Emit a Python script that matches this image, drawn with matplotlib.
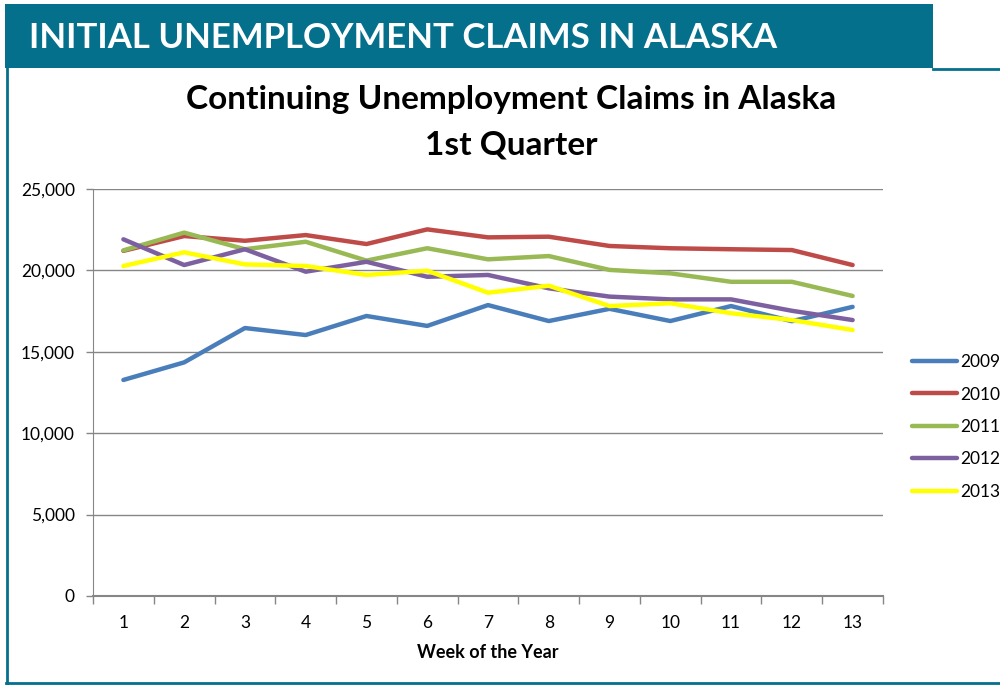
import numpy as np
import matplotlib.pyplot as plt
from matplotlib.patches import Rectangle
from matplotlib.lines import Line2D

# data
weeks = list(range(1, 14))
claims_2009 = [13270, 14350, 16460, 16030, 17200, 16590, 17870, 16890, 17640, 16890, 17810, 16880, 17760]
claims_2010 = [21200, 22110, 21820, 22170, 21620, 22520, 22030, 22070, 21500, 21360, 21300, 21250, 20330]
claims_2011 = [21230, 22320, 21300, 21760, 20600, 21360, 20680, 20880, 20030, 19820, 19300, 19300, 18430]
claims_2012 = [21910, 20330, 21300, 19920, 20530, 19610, 19720, 18900, 18390, 18220, 18220, 17520, 16950]
claims_2013 = [20270, 21110, 20370, 20270, 19720, 19980, 18630, 19060, 17810, 17980, 17370, 16950, 16340]
series_names = ['2009', '2010', '2011', '2012', '2013']
colors = ['#4A7EBB', '#BE4B48', '#98B954', '#7D60A0', '#FFFF00']

TEAL = '#04708C'
GRAY = '#868686'
plt.rcParams['font.family'] = ['Lato', 'DejaVu Sans']

fig = plt.figure(figsize=(10, 6.85), dpi=100)

# header band and frame
fig.patches.append(Rectangle((0.005, 1 - 68 / 685), 0.928, 64 / 685, transform=fig.transFigure,
                             facecolor=TEAL, edgecolor='none'))
fig.add_artist(Line2D([0.007, 0.007], [1 - 68 / 685, 1 - 683 / 685], color=TEAL, lw=2))
fig.add_artist(Line2D([0.006, 1.0], [1 - 683 / 685, 1 - 683 / 685], color=TEAL, lw=2))
fig.add_artist(Line2D([0.933, 1.0], [1 - 69 / 685, 1 - 69 / 685], color=TEAL, lw=2))
fig.text(0.029, 1 - 38 / 685, 'INITIAL UNEMPLOYMENT CLAIMS IN ALASKA', color='white',
         fontsize=25, fontweight='bold', va='center', ha='left')

fig.text(0.511, 1 - 100 / 685, 'Continuing Unemployment Claims in Alaska', fontsize=24,
         fontweight='bold', ha='center', va='center')
fig.text(0.511, 1 - 145 / 685, '1st Quarter', fontsize=24, fontweight='bold', ha='center', va='center')

ax = fig.add_axes([0.093, 1 - 596 / 685, 0.790, 407 / 685])
all_series = [claims_2009, claims_2010, claims_2011, claims_2012, claims_2013]
for name, vals, c in zip(series_names, all_series, colors):
    ax.plot(weeks, vals, color=c, lw=3.2, label=name, solid_capstyle='round')

ax.set_xlim(0.5, 13.5)
ax.set_ylim(0, 25000)
ax.set_yticks(np.arange(0, 25001, 5000))
ax.set_yticklabels(['{:,}'.format(v) for v in range(0, 25001, 5000)])
ax.yaxis.grid(True, color=GRAY, lw=1)
ax.set_axisbelow(True)
ax.set_xticks(np.arange(0.5, 14, 1))
ax.set_xticklabels([])
ax.set_xticks(weeks, minor=True)
ax.set_xticklabels([str(w) for w in weeks], minor=True)
ax.tick_params(axis='x', which='major', length=6, color=GRAY, width=1)
ax.tick_params(axis='x', which='minor', length=0, pad=14, labelsize=12.5)
ax.tick_params(axis='y', length=5, color=GRAY, width=1, labelsize=12.5, pad=8)
for s in ['top', 'right']:
    ax.spines[s].set_visible(False)
ax.spines['left'].set_color(GRAY)
ax.spines['bottom'].set_color(GRAY)
ax.spines['bottom'].set_linewidth(1.5)
ax.set_xlabel('Week of the Year', fontsize=13, fontweight='bold', labelpad=9)

ax.legend(loc='center left', bbox_to_anchor=(0.905, 1 - 427 / 685), bbox_transform=fig.transFigure,
          frameon=False, fontsize=12.5, handlelength=2.6, handletextpad=0.2, labelspacing=0.95,
          borderaxespad=0)

fig.savefig('out.png', dpi=100)
